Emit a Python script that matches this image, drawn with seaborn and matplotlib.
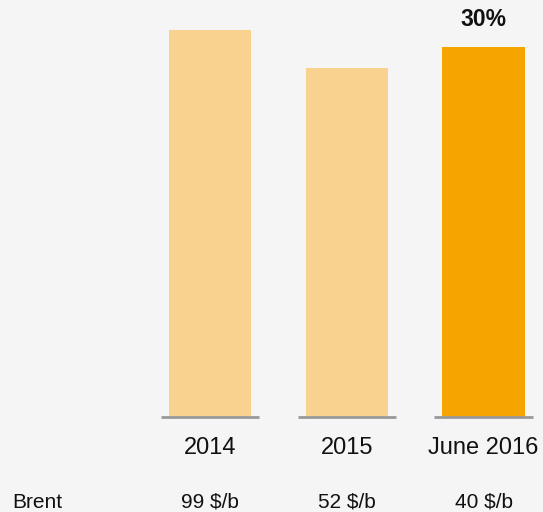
import matplotlib

matplotlib.use("Agg")
import matplotlib.pyplot as plt
import matplotlib.transforms as mtransforms
import pandas as pd
import seaborn as sns

# chart data
periods = ["2014", "2015", "June 2016"]
share = [31.4, 28.3, 30.0]
brent = ["99 $/b", "52 $/b", "40 $/b"]
highlight_label = "30%"

LIGHT = "#FAD290"
DARK = "#F6A500"
BG = "#F5F5F5"

sns.set_theme(style="white")
plt.rcParams["font.family"] = ["Liberation Sans", "DejaVu Sans"]

df = pd.DataFrame({"period": periods, "share": share})

fig = plt.figure(figsize=(5.43, 5.12), dpi=100, facecolor=BG)
ax = fig.add_axes([0, 0, 1, 1])
ax.set_facecolor(BG)

palette = [LIGHT, LIGHT, DARK]
sns.barplot(data=df, x="period", y="share", hue="period", palette=palette,
            width=0.6, saturation=1, legend=False, linewidth=0, ax=ax)

# grey baseline segment under each bar
for i in range(len(periods)):
    ax.hlines(0, i - 0.36, i + 0.36, color="#999999", lw=2, zorder=3)

ax.set_xlim(-1.536, 2.435)
ax.set_ylim(-7.68, 33.83)
ax.axis("off")

trans = mtransforms.blended_transform_factory(ax.transData, ax.transAxes)
for i, (p, b) in enumerate(zip(periods, brent)):
    ax.text(i, 1 - 448 / 512, p, transform=trans, ha="center", va="center",
            fontsize=17, color="#111111")
    ax.text(i, 1 - 502 / 512, b, transform=trans, ha="center", va="center",
            fontsize=15, color="#111111")

ax.text(12 / 543, 1 - 502 / 512, "Brent", transform=ax.transAxes,
        ha="left", va="center", fontsize=15, color="#111111")

ax.text(2, 1 - 19 / 512, highlight_label, transform=trans, ha="center",
        va="center", fontsize=16.5, fontweight="bold", color="#111111")

fig.savefig("out.png", dpi=100, facecolor=BG)
plt.close(fig)
